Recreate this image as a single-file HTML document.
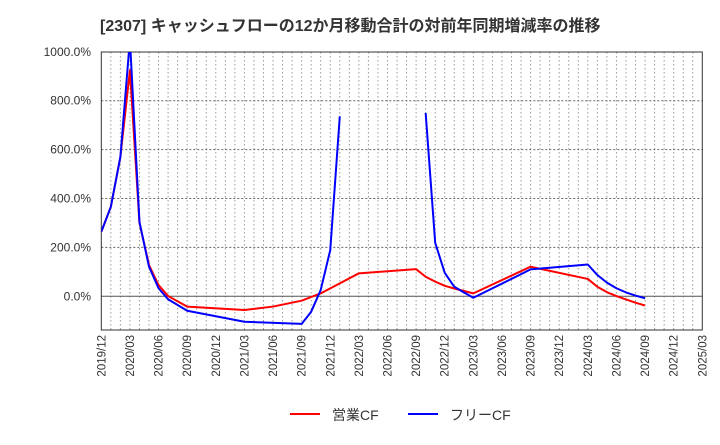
<!DOCTYPE html>
<html><head><meta charset="utf-8"><style>
body{margin:0;background:#fff;font-family:"Liberation Sans","Noto Sans CJK JP",sans-serif}
</style></head><body>
<svg id="c" width="720" height="440" xmlns="http://www.w3.org/2000/svg">
<text x="100" y="31" font-size="16" font-weight="bold" fill="#333" font-family="Liberation Sans,Noto Sans CJK JP,sans-serif">[2307]  キャッシュフローの12か月移動合計の対前年同期増減率の推移</text>
<g id="grid"></g><g id="axes"></g><g id="series"></g>
<g>
<line x1="290" y1="414" x2="320" y2="414" stroke="#f00" stroke-width="2"/>
<text x="332" y="420" font-size="14" fill="#333" font-family="Liberation Sans,Noto Sans CJK JP,sans-serif">営業CF</text>
<line x1="408" y1="414" x2="438" y2="414" stroke="#00f" stroke-width="2"/>
<text x="450" y="420" font-size="14" fill="#333" font-family="Liberation Sans,Noto Sans CJK JP,sans-serif">フリーCF</text>
</g>
</svg>
<script>
const xTickLabels=["2019/12","2020/03","2020/06","2020/09","2020/12","2021/03","2021/06","2021/09","2021/12","2022/03","2022/06","2022/09","2022/12","2023/03","2023/06","2023/09","2023/12","2024/03","2024/06","2024/09","2024/12","2025/03"];
const yTicks=[0,200,400,600,800,1000];
const opMonths=[0,1,2,3,4,5,6,7,9,15,18,21,23,25,27,33,34,35,36,37,39,45,51,52,53,54,55,56,57];
const opValues=[264,366,570,924,300,128,46,1,-42,-56,-42,-18,12,53,94,111,80,60,43,32,12,121,71,39,17,1,-13,-26,-38];
const fcfMonths1=[0,1,2,3,4,5,6,7,9,15,21,22,23,24,25];
const fcfValues1=[264,366,570,1050,304,121,33,-12,-59,-104,-113,-63,26,189,736];
const fcfMonths2=[34,35,36,37,38,39,45,51,52,53,54,55,56,57];
const fcfValues2=[750,219,96,39,16,-6,110,130,87,56,33,16,3,-8];

const L=101.3,R=702.3,T=52,B=330,NS="http://www.w3.org/2000/svg";
const xs=m=>L+m*(R-L)/63;
const ys=v=>296.3-v*0.2445;
function mk(tag,attrs,parent){const e=document.createElementNS(NS,tag);for(const k in attrs)e.setAttribute(k,attrs[k]);parent.appendChild(e);return e;}
const grid=document.getElementById('grid'),axes=document.getElementById('axes'),ser=document.getElementById('series');
for(let m=1;m<63;m++){const l=mk('line',{x1:xs(m),x2:xs(m),y1:T,y2:B,stroke:'#999','stroke-dasharray':'1.5,2.5'},grid);

}
yTicks.forEach(v=>{const y=ys(v);
if(v>0&&v<1000){const l=mk('line',{x1:L,x2:R,y1:y,y2:y,stroke:'#666','stroke-dasharray':'2,2'},grid);

}
const t=mk('text',{x:91,y:y+4,'font-size':12,'text-anchor':'end',fill:'#333'},axes);t.textContent=v.toFixed(1)+'%';

});
const z=mk('line',{x1:L,x2:R,y1:ys(0),y2:ys(0),stroke:'#555','stroke-width':1},grid);


xTickLabels.forEach((s,i)=>{const x=xs(i*3);const t=mk('text',{x:0,y:0,'font-size':11.5,'text-anchor':'end',fill:'#333',transform:`translate(${x+4},335) rotate(-90)`},axes);t.textContent=s;

});
const fr=mk('rect',{x:L,y:T,width:R-L,height:B-T,fill:'none',stroke:'#333'},axes);


const cp=mk('clipPath',{id:'cp'},ser);
mk('rect',{x:L,y:T,width:R-L,height:B-T},cp);
function line(ms,vs,col,name){const p=mk('polyline',{points:ms.map((m,i)=>xs(m)+','+ys(vs[i])).join(' '),fill:'none',stroke:col,'stroke-width':2,'clip-path':'url(#cp)','stroke-linejoin':'round'},ser);

}
line(opMonths,opValues,'#f00','operating-cf-line');
line(fcfMonths1,fcfValues1,'#00f','free-cf-line-1');
line(fcfMonths2,fcfValues2,'#00f','free-cf-line-2');
</script>
</body></html>
